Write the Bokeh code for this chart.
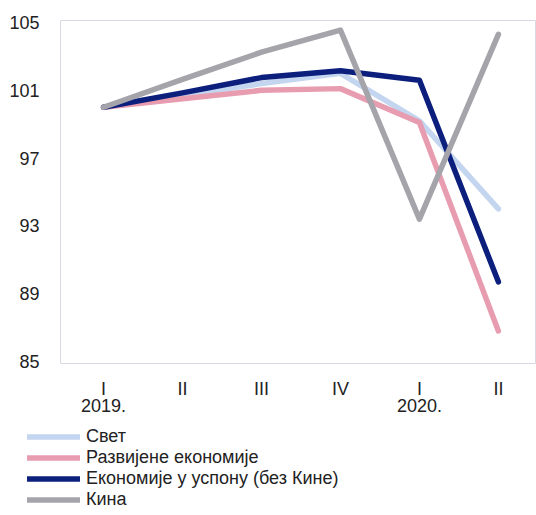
from bokeh.plotting import figure
from bokeh.models import Range1d, LinearAxis, FixedTicker, Legend, LegendItem
from bokeh.layouts import column
from bokeh.embed import file_html
from bokeh.resources import INLINE

quarters = ["I", "II", "III", "IV", "I", "II"]
year_labels = {0: "2019.", 4: "2020."}
x = [0, 1, 2, 3, 4, 5]

svet = [100.0, 100.7, 101.4, 102.0, 99.2, 94.0]
razvijene = [100.0, 100.5, 101.0, 101.1, 99.1, 86.8]
uspon = [100.0, 100.85, 101.75, 102.15, 101.6, 89.7]
kina = [100.0, 101.65, 103.25, 104.55, 93.4, 104.3]

series_names = ["Свет", "Развијене економије", "Економије у успону (без Кине)", "Кина"]
series_vals = [svet, razvijene, uspon, kina]
colors = ["#c3d5ef", "#e89cb0", "#0c1f7c", "#a4a4aa"]
y_ticks = [85, 89, 93, 97, 101, 105]

FONT = "Liberation Sans"
FS = "18px"
TXT = "#222222"
LW = 5.5

p = figure(frame_width=475, frame_height=343, output_backend="svg", toolbar_location=None,
           x_range=Range1d(-0.545, 5.47), y_range=Range1d(84.88, 105.12),
           min_border_left=60, min_border_top=20, min_border_right=1,
           min_border_bottom=60, frame_align=False)
p.xgrid.grid_line_color = None
p.ygrid.grid_line_color = None
p.outline_line_color = "#d9d9e3"
p.outline_line_width = 1
p.background_fill_color = "white"
p.border_fill_color = "white"

# y axis
p.yaxis.ticker = FixedTicker(ticks=y_ticks)
p.yaxis.axis_line_color = None
p.yaxis.major_tick_line_color = None
p.yaxis.minor_tick_line_color = None
p.yaxis.major_label_standoff = 15
p.yaxis.major_label_text_font = FONT
p.yaxis.major_label_text_font_size = FS
p.yaxis.major_label_text_color = TXT

# x axis: quarters
p.xaxis.ticker = FixedTicker(ticks=x)
p.xaxis.major_label_overrides = {i: q for i, q in zip(x, quarters)}
p.xaxis.axis_line_color = None
p.xaxis.major_tick_line_color = None
p.xaxis.minor_tick_line_color = None
p.xaxis.major_label_standoff = 9
p.xaxis.major_label_text_font = FONT
p.xaxis.major_label_text_font_size = FS
p.xaxis.major_label_text_color = TXT

# second x axis: years
ax2 = LinearAxis(ticker=FixedTicker(ticks=list(year_labels.keys())),
                 major_label_overrides=year_labels)
ax2.axis_line_color = None
ax2.major_tick_line_color = None
ax2.minor_tick_line_color = None
ax2.major_label_standoff = -9
ax2.major_label_text_font = FONT
ax2.major_label_text_font_size = FS
ax2.major_label_text_color = TXT
p.add_layout(ax2, "below")

for vals, c in zip(series_vals, colors):
    p.line(x, vals, line_color=c, line_width=LW, line_join="round", line_cap="round")

# legend panel below the chart (series drawn out of view; only legend samples show)
p2 = figure(width=536, height=92, output_backend="svg", toolbar_location=None,
            x_range=Range1d(0, 1), y_range=Range1d(0, 1),
            x_axis_type=None, y_axis_type=None, frame_align=False,
            min_border_left=0, min_border_right=0, min_border_top=0, min_border_bottom=0)
p2.xgrid.grid_line_color = None
p2.ygrid.grid_line_color = None
p2.outline_line_color = None
p2.background_fill_color = "white"
p2.border_fill_color = "white"

items = []
for name, vals, c in zip(series_names, series_vals, colors):
    r = p2.line(x, vals, line_color=c, line_width=LW, line_cap="round")
    items.append(LegendItem(label=name, renderers=[r]))

legend = Legend(items=items, location=(27, 5), orientation="vertical",
                border_line_color=None, background_fill_alpha=0,
                label_text_font=FONT, label_text_font_size=FS, label_text_color=TXT,
                label_text_line_height=0.9,
                glyph_width=53, glyph_height=17, label_height=17, label_standoff=6,
                spacing=-2, padding=0, margin=0)
p2.add_layout(legend, "center")

layout = column(p, p2, spacing=0)
open("out.html", "w").write(file_html(layout, INLINE))
